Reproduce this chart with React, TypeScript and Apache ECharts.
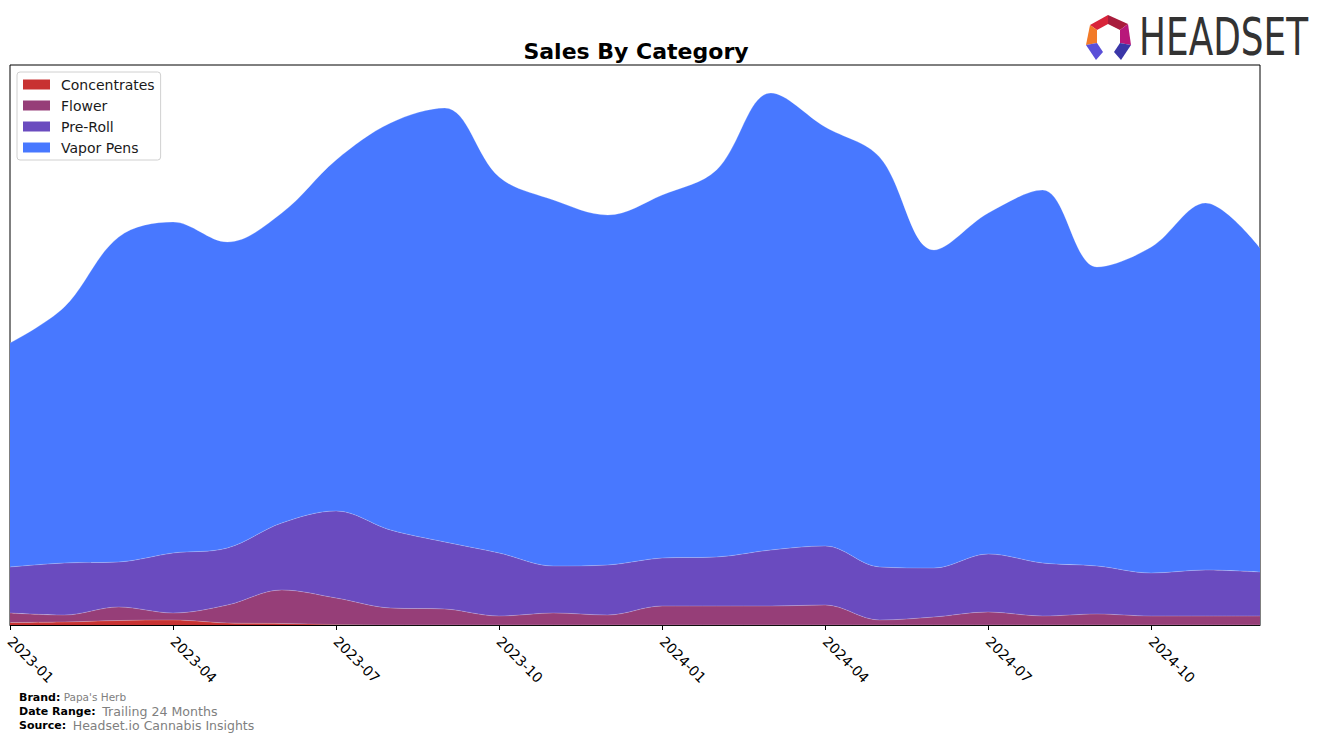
import React, { useEffect, useRef } from "react";
import * as echarts from "echarts";

const months = [
  "2023-01", "2023-02", "2023-03", "2023-04", "2023-05", "2023-06",
  "2023-07", "2023-08", "2023-09", "2023-10", "2023-11", "2023-12",
  "2024-01", "2024-02", "2024-03", "2024-04", "2024-05", "2024-06",
  "2024-07", "2024-08", "2024-09", "2024-10", "2024-11", "2024-12",
];

const concentrates = [2.5, 3, 4.5, 5, 2, 1.5, 0.5, 0, 0, 0, 0, 0, 0, 0, 0, 0, 0, 0, 0, 0, 0, 0, 0, 0];
const flower = [9.5, 7, 13.5, 7, 18, 33.5, 26.5, 17, 16, 9, 12, 10, 19, 19, 19, 20, 5, 8, 13, 9, 11, 9, 9, 9];
const preRoll = [46, 52, 45, 60, 57, 67, 87, 78, 67, 63, 47, 50, 48, 49, 56, 59, 53, 49, 58, 53, 48, 43, 46, 44];
const vaporPens = [224, 256, 325, 331, 306, 310, 351, 407, 434, 376, 366, 350, 363, 387, 457, 419, 410, 318, 341, 373, 299, 326, 367, 324];

const seriesNames = ["Concentrates", "Flower", "Pre-Roll", "Vapor Pens"];
const seriesColors = ["#c83232", "#963e78", "#6a4bbf", "#4878ff"];

const FONT = "DejaVu Sans";

export default function App() {
  const ref = useRef<HTMLDivElement>(null);
  useEffect(() => {
    if (!ref.current) return;
    const chart = echarts.init(ref.current, null, { renderer: "svg" });
    const values = [concentrates, flower, preRoll, vaporPens];
    const series = seriesNames.map((name, i) => ({
      name,
      type: "line",
      stack: "total",
      smooth: 0.35,
      symbol: "none",
      data: values[i],
      itemStyle: { color: seriesColors[i] },
      lineStyle: { width: 1, color: "rgba(255,255,255,0.22)" },
      areaStyle: { color: seriesColors[i], opacity: 1 },
    }));
    chart.setOption({
      animation: false,
      textStyle: { fontFamily: FONT },
      title: {
        text: "Sales By Category",
        left: 631,
        textAlign: "center",
        top: 35,
        textStyle: { fontFamily: FONT, fontWeight: "bold", fontSize: 22, color: "#000" },
      },
      legend: {
        orient: "vertical",
        left: 17,
        top: 72,
        padding: [5, 6, 5, 6],
        itemGap: 6,
        itemWidth: 27,
        itemHeight: 10,
        icon: "rect",
        borderColor: "#d0d0d0",
        borderWidth: 1,
        borderRadius: 3,
        backgroundColor: "rgba(255,255,255,0.85)",
        data: seriesNames,
        textStyle: { fontFamily: FONT, fontSize: 14, color: "#1a1a1a", lineHeight: 15, padding: [0, 0, 0, 6] },
      },
      grid: {
        left: 10,
        top: 65,
        width: 1250,
        height: 560,
        show: true,
        borderColor: "#000",
        borderWidth: 1,
        backgroundColor: "transparent",
      },
      xAxis: {
        type: "category",
        data: months,
        boundaryGap: false,
        axisLine: { show: true, lineStyle: { color: "#000", width: 1 } },
        axisTick: {
          show: true,
          length: 5,
          interval: 2,
          lineStyle: { color: "#000" },
        },
        splitLine: { show: false },
        axisLabel: {
          interval: 2,
          rotate: -45,
          margin: 14,
          color: "#000",
          fontSize: 14,
          fontFamily: FONT,
        },
      },
      yAxis: {
        type: "value",
        min: 0,
        max: 560,
        show: false,
        splitLine: { show: false },
      },
      series,
      graphic: [
        {
          type: "text",
          left: 19,
          top: 691,
          style: {
            text: "{b|Brand:} {g|Papa's Herb}",
            rich: {
              b: { fontFamily: FONT, fontWeight: "bold", fontSize: 11, fill: "#000" },
              g: { fontFamily: FONT, fontSize: 10.5, fill: "#808080" },
            },
          },
        },
        {
          type: "text",
          left: 19,
          top: 705,
          style: {
            text: "{b|Date Range:}  {g|Trailing 24 Months}",
            rich: {
              b: { fontFamily: FONT, fontWeight: "bold", fontSize: 11, fill: "#000" },
              g: { fontFamily: FONT, fontSize: 12.6, fill: "#808080" },
            },
          },
        },
        {
          type: "text",
          left: 19,
          top: 719,
          style: {
            text: "{b|Source:}  {g|Headset.io Cannabis Insights}",
            rich: {
              b: { fontFamily: FONT, fontWeight: "bold", fontSize: 11, fill: "#000" },
              g: { fontFamily: FONT, fontSize: 12.5, fill: "#808080" },
            },
          },
        },
        { type: "polygon", shape: { points: [[1090, 25], [1108, 15], [1108, 24], [1097, 30]] }, style: { fill: "#d8243a" } },
        { type: "polygon", shape: { points: [[1108, 15], [1128, 24], [1120, 30], [1108, 24]] }, style: { fill: "#a81c3c" } },
        { type: "polygon", shape: { points: [[1090, 25], [1097, 30], [1097, 43], [1086, 45]] }, style: { fill: "#f27a28" } },
        { type: "polygon", shape: { points: [[1128, 24], [1131, 45], [1120, 43], [1120, 30]] }, style: { fill: "#b8177a" } },
        { type: "polygon", shape: { points: [[1086, 45], [1097, 43], [1103, 52], [1096, 60]] }, style: { fill: "#5a4fd8" } },
        { type: "polygon", shape: { points: [[1131, 45], [1120, 43], [1114, 52], [1121, 60]] }, style: { fill: "#3a36a8" } },
        {
          type: "text",
          x: 1139,
          y: 12,
          scaleX: 0.69,
          style: {
            text: "HEADSET",
            fontFamily: FONT,
            fontSize: 52,
            fill: "#333333",
          },
        },
      ],
    });
    return () => chart.dispose();
  }, []);
  return (
    <div
      ref={ref}
      style={{ position: "fixed", left: 0, top: 0, width: 1324, height: 742, background: "#fff" }}
    />
  );
}
